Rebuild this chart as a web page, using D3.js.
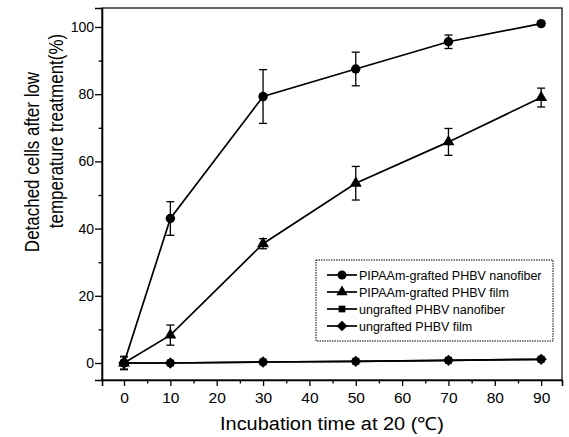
<!DOCTYPE html>
<html>
<head>
<meta charset="utf-8">
<script src="https://cdn.jsdelivr.net/npm/d3@7"></script>
<style>
  html, body { margin: 0; padding: 0; background: #fff; }
  svg { display: block; }
  text { font-family: "Liberation Sans", Arial, sans-serif; fill: #000; }
</style>
</head>
<body>
<svg id="chart" width="569" height="437"></svg>
<script>
// ---- data ----
const times = [0, 10, 30, 50, 70, 90];
const graftedNano = [0, 43, 79.3, 87.5, 95.6, 101];
const graftedNanoErr = [2, 5, 8, 5, 2, 0];
const graftedFilm = [0, 8.3, 35.5, 53.5, 65.8, 79];
const graftedFilmErr = [1.8, 3, 1.5, 5, 4, 2.8];
const ungraftedNano = [0, 0, 0.3, 0.5, 0.8, 1.1];
const ungraftedFilm = [0, 0, 0.3, 0.5, 0.8, 1.1];
const seriesNames = [
  "PIPAAm-grafted PHBV nanofiber",
  "PIPAAm-grafted PHBV film",
  "ungrafted PHBV nanofiber",
  "ungrafted PHBV film"
];
const xTicks = [0, 10, 20, 30, 40, 50, 60, 70, 80, 90];
const xMinor = [5, 15, 25, 35, 45, 55, 65, 75, 85];
const yTicks = [0, 20, 40, 60, 80, 100];
const yMinor = [10, 30, 50, 70, 90];
const xTitle = "Incubation time at 20 (\u2103)";
const yTitle1 = "Detached cells after low";
const yTitle2 = "temperature treatment(%)";

// ---- layout ----
const L = 102, R = 562, T = 8, B = 380;
const svg = d3.select("#chart");
const x = d3.scaleLinear().domain([-4.75, 94.5]).range([L, R]);
const y = d3.scaleLinear().domain([-5.06, 105.65]).range([B, T]);

// frame
svg.append("rect").attr("x", L).attr("y", T).attr("width", R - L).attr("height", B - T)
  .attr("fill", "none").attr("stroke", "#000").attr("stroke-width", 1.2);

// axes
const xAxis = svg.append("g").attr("transform", `translate(0,${B})`)
  .call(d3.axisBottom(x).tickValues(xTicks).tickSize(6).tickPadding(6).tickFormat(d3.format("d")));
svg.append("g").attr("transform", `translate(0,${B})`)
  .call(d3.axisBottom(x).tickValues(xMinor).tickSize(3.5).tickFormat(""))
  .select(".domain").remove();
const yAxis = svg.append("g").attr("transform", `translate(${L},0)`)
  .call(d3.axisLeft(y).tickValues(yTicks).tickSize(7).tickPadding(1).tickFormat(d3.format("d")));
svg.append("g").attr("transform", `translate(${L},0)`)
  .call(d3.axisLeft(y).tickValues(yMinor).tickSize(3.5).tickFormat(""))
  .select(".domain").remove();
svg.selectAll(".domain").attr("stroke-width", 1.6);
svg.selectAll(".tick line").attr("stroke-width", 1.3);
xAxis.selectAll("text").attr("font-size", 15.5).attr("font-family", "Liberation Sans, Arial, sans-serif");
yAxis.selectAll("text").attr("font-size", 14).attr("font-family", "Liberation Sans, Arial, sans-serif");

// titles
svg.append("text").attr("x", 332).attr("y", 430).attr("text-anchor", "middle")
  .attr("font-size", 18).attr("textLength", 224).attr("lengthAdjust", "spacingAndGlyphs").text(xTitle);
svg.append("text").attr("transform", "translate(39,162) rotate(-90) scale(1,1.15)").attr("text-anchor", "middle")
  .attr("font-size", 17).text(yTitle1);
svg.append("text").attr("transform", "translate(63,131) rotate(-90) scale(1,1.15)").attr("text-anchor", "middle")
  .attr("font-size", 17).text(yTitle2);

// symbols (diamond = square turned 45 degrees)
const diamond = {
  draw(ctx, size) {
    const r = Math.sqrt(size / 2);
    ctx.moveTo(0, -r); ctx.lineTo(r, 0); ctx.lineTo(0, r); ctx.lineTo(-r, 0); ctx.closePath();
  }
};

// series
const series = [
  { name: seriesNames[0], vals: graftedNano, err: graftedNanoErr, sym: d3.symbolCircle, size: 70 },
  { name: seriesNames[1], vals: graftedFilm, err: graftedFilmErr, sym: d3.symbolTriangle, size: 62 },
  { name: seriesNames[2], vals: ungraftedNano, err: null, sym: d3.symbolSquare, size: 50 },
  { name: seriesNames[3], vals: ungraftedFilm, err: null, sym: diamond, size: 64 }
];
const line = d3.line().x(d => x(d[0])).y(d => y(d[1]));
series.forEach(s => {
  const pts = times.map((t, i) => [t, s.vals[i], s.err ? s.err[i] : 0]);
  const g = svg.append("g");
  g.append("path").attr("d", line(pts)).attr("fill", "none").attr("stroke", "#000").attr("stroke-width", 1.7);
  if (s.err) {
    pts.filter(p => p[2] > 0).forEach(p => {
      const xc = x(p[0]), y1 = y(p[1] + p[2]), y2 = y(p[1] - p[2]);
      g.append("line").attr("x1", xc).attr("x2", xc).attr("y1", y1).attr("y2", y2).attr("stroke", "#000").attr("stroke-width", 1.3);
      [y1, y2].forEach(yy => g.append("line").attr("x1", xc - 4).attr("x2", xc + 4).attr("y1", yy).attr("y2", yy)
        .attr("stroke", "#000").attr("stroke-width", 1.3));
    });
  }
  g.selectAll("path.m").data(pts).join("path").attr("class", "m")
    .attr("transform", d => `translate(${x(d[0])},${y(d[1])})`)
    .attr("d", d3.symbol().type(s.sym).size(s.size)).attr("fill", "#000");
});

// legend
const lg = svg.append("g");
lg.append("rect").attr("x", 316).attr("y", 260).attr("width", 237).attr("height", 81)
  .attr("fill", "#fff").attr("stroke", "#000").attr("stroke-width", 1).attr("stroke-dasharray", "1.5,1");
series.forEach((s, i) => {
  const yy = 275 + i * 17;
  lg.append("line").attr("x1", 327).attr("x2", 357).attr("y1", yy).attr("y2", yy).attr("stroke", "#000").attr("stroke-width", 1.7);
  lg.append("path").attr("transform", `translate(342,${yy})`).attr("d", d3.symbol().type(s.sym).size(s.size * 0.9)).attr("fill", "#000");
  lg.append("text").attr("x", 359).attr("y", yy + 4.5).attr("font-size", 12.5).text(s.name);
});
</script>
</body>
</html>
